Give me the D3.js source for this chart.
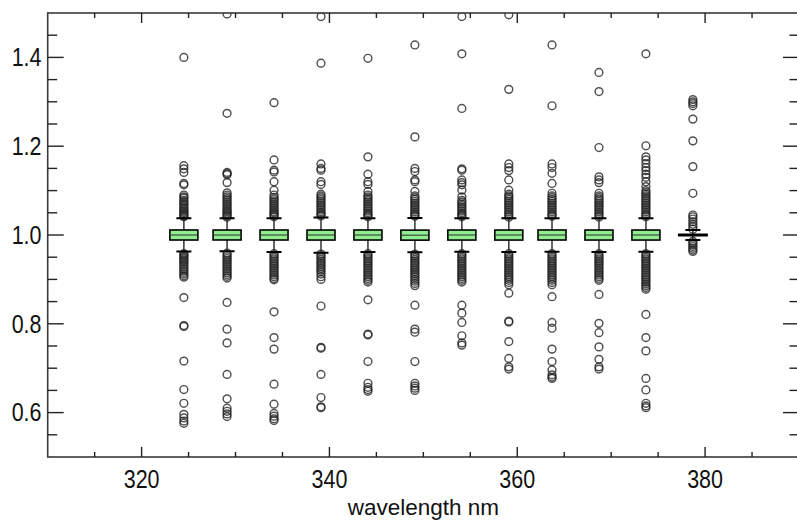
<!DOCTYPE html>
<html>
<head>
<meta charset="utf-8">
<script src="https://cdn.jsdelivr.net/npm/d3@7"></script>
<style>
  html, body { margin: 0; padding: 0; background: #fff; }
  svg { display: block; }
  text { font-family: "Liberation Sans", Arial, Helvetica, sans-serif; fill: #111; }
</style>
</head>
<body>
<svg id="chart" width="797" height="523"></svg>
<script>
// Wavelength bands (nm) and box statistics of the ratio at each band
const wavelengths = [324.5, 329.1, 334.1, 339.1, 344.1, 349.1, 354.1, 359.1, 363.7, 368.7, 373.7, 378.7];
const q1          = [0.9887, 0.9888, 0.9887, 0.9886, 0.9887, 0.9884, 0.9886, 0.9886, 0.9887, 0.9886, 0.9886, 1.0];
const medians     = [1.0000, 1.0000, 1.0000, 0.9999, 1.0000, 0.9997, 0.9999, 0.9999, 1.0000, 0.9999, 0.9999, 1.0];
const q3          = [1.0113, 1.0112, 1.0113, 1.0112, 1.0113, 1.0110, 1.0112, 1.0112, 1.0113, 1.0112, 1.0112, 1.0];
const whiskerLow  = [0.9630, 0.9635, 0.9615, 0.9600, 0.9615, 0.9610, 0.9620, 0.9615, 0.9620, 0.9615, 0.9620, 0.9890];
const whiskerHigh = [1.0375, 1.0380, 1.0380, 1.0395, 1.0375, 1.0385, 1.0375, 1.0380, 1.0380, 1.0375, 1.0380, 1.0110];

// Outlying samples above and below the whiskers, per band
const outliersHigh = [
  [1.400, 1.156, 1.149, 1.141, 1.116, 1.113, 1.090, 1.086, 1.083, 1.078, 1.075, 1.071, 1.068, 1.064, 1.060, 1.057, 1.054, 1.051, 1.048, 1.046, 1.043, 1.041],
  [1.498, 1.274, 1.141, 1.138, 1.136, 1.118, 1.095, 1.090, 1.086, 1.082, 1.078, 1.074, 1.070, 1.066, 1.062, 1.058, 1.055, 1.052, 1.049, 1.046, 1.043, 1.040],
  [1.298, 1.169, 1.146, 1.142, 1.120, 1.101, 1.090, 1.085, 1.081, 1.077, 1.073, 1.069, 1.065, 1.061, 1.057, 1.053, 1.050, 1.047, 1.044, 1.041],
  [1.492, 1.387, 1.160, 1.150, 1.146, 1.120, 1.114, 1.092, 1.088, 1.084, 1.080, 1.076, 1.072, 1.068, 1.064, 1.060, 1.056, 1.052, 1.049, 1.046, 1.043],
  [1.398, 1.176, 1.137, 1.120, 1.114, 1.098, 1.090, 1.086, 1.082, 1.078, 1.074, 1.070, 1.066, 1.062, 1.058, 1.054, 1.050, 1.047, 1.044, 1.041],
  [1.428, 1.221, 1.150, 1.143, 1.124, 1.120, 1.098, 1.088, 1.084, 1.080, 1.076, 1.072, 1.068, 1.064, 1.060, 1.056, 1.052, 1.048, 1.045, 1.042],
  [1.492, 1.408, 1.285, 1.149, 1.146, 1.124, 1.118, 1.113, 1.101, 1.086, 1.078, 1.074, 1.070, 1.066, 1.062, 1.058, 1.054, 1.050, 1.047, 1.044, 1.041],
  [1.496, 1.328, 1.160, 1.152, 1.145, 1.124, 1.101, 1.092, 1.088, 1.084, 1.080, 1.076, 1.072, 1.068, 1.064, 1.060, 1.056, 1.052, 1.048, 1.044, 1.040],
  [1.428, 1.291, 1.160, 1.152, 1.139, 1.116, 1.094, 1.088, 1.084, 1.080, 1.076, 1.072, 1.068, 1.064, 1.060, 1.056, 1.052, 1.048, 1.045, 1.042],
  [1.366, 1.323, 1.197, 1.131, 1.124, 1.118, 1.094, 1.088, 1.084, 1.080, 1.076, 1.072, 1.068, 1.064, 1.060, 1.056, 1.052, 1.048, 1.044, 1.040],
  [1.408, 1.201, 1.176, 1.169, 1.161, 1.152, 1.145, 1.137, 1.130, 1.120, 1.109, 1.100, 1.096, 1.092, 1.088, 1.084, 1.080, 1.076, 1.072, 1.068, 1.064, 1.060, 1.056, 1.052, 1.048, 1.044, 1.041],
  [1.305, 1.300, 1.296, 1.291, 1.261, 1.212, 1.154, 1.094, 1.045, 1.041, 1.036, 1.030, 1.024, 1.019, 1.013]
];
const outliersLow = [
  [0.958, 0.955, 0.952, 0.949, 0.946, 0.943, 0.940, 0.936, 0.932, 0.928, 0.924, 0.920, 0.916, 0.912, 0.908, 0.905, 0.859, 0.796, 0.794, 0.716, 0.652, 0.621, 0.596, 0.588, 0.581, 0.576],
  [0.959, 0.955, 0.951, 0.947, 0.943, 0.939, 0.935, 0.931, 0.927, 0.923, 0.919, 0.915, 0.911, 0.907, 0.903, 0.848, 0.788, 0.757, 0.686, 0.631, 0.610, 0.603, 0.597, 0.591],
  [0.958, 0.954, 0.950, 0.946, 0.942, 0.938, 0.934, 0.930, 0.926, 0.922, 0.918, 0.914, 0.910, 0.906, 0.902, 0.899, 0.827, 0.769, 0.743, 0.664, 0.619, 0.598, 0.592, 0.586, 0.582],
  [0.957, 0.953, 0.949, 0.945, 0.941, 0.937, 0.933, 0.929, 0.925, 0.921, 0.917, 0.912, 0.906, 0.900, 0.840, 0.747, 0.745, 0.686, 0.634, 0.613, 0.611],
  [0.958, 0.954, 0.950, 0.946, 0.942, 0.938, 0.934, 0.930, 0.926, 0.922, 0.918, 0.914, 0.910, 0.906, 0.902, 0.898, 0.894, 0.854, 0.777, 0.775, 0.715, 0.666, 0.657, 0.652, 0.648],
  [0.957, 0.953, 0.949, 0.945, 0.941, 0.937, 0.933, 0.929, 0.925, 0.921, 0.917, 0.913, 0.909, 0.905, 0.900, 0.896, 0.891, 0.886, 0.842, 0.788, 0.781, 0.715, 0.666, 0.660, 0.655, 0.650],
  [0.958, 0.954, 0.950, 0.946, 0.942, 0.938, 0.934, 0.930, 0.926, 0.922, 0.918, 0.914, 0.910, 0.906, 0.902, 0.898, 0.894, 0.842, 0.824, 0.803, 0.773, 0.757, 0.752],
  [0.958, 0.954, 0.950, 0.946, 0.942, 0.938, 0.934, 0.930, 0.926, 0.922, 0.918, 0.914, 0.910, 0.906, 0.902, 0.898, 0.893, 0.888, 0.869, 0.806, 0.804, 0.760, 0.722, 0.703, 0.698],
  [0.958, 0.954, 0.950, 0.946, 0.942, 0.938, 0.934, 0.930, 0.926, 0.922, 0.918, 0.914, 0.910, 0.906, 0.902, 0.898, 0.893, 0.888, 0.861, 0.803, 0.790, 0.743, 0.715, 0.696, 0.685, 0.680, 0.677],
  [0.958, 0.954, 0.950, 0.946, 0.942, 0.938, 0.934, 0.930, 0.926, 0.922, 0.918, 0.914, 0.910, 0.906, 0.902, 0.898, 0.866, 0.801, 0.780, 0.748, 0.720, 0.703, 0.698],
  [0.958, 0.954, 0.950, 0.946, 0.942, 0.938, 0.934, 0.930, 0.926, 0.922, 0.918, 0.914, 0.910, 0.906, 0.902, 0.898, 0.894, 0.890, 0.886, 0.882, 0.878, 0.821, 0.769, 0.739, 0.677, 0.651, 0.621, 0.615, 0.611],
  [0.986, 0.982, 0.978, 0.974, 0.970, 0.966, 0.963]
];

// Axis ticks
const xMajorTicks = [320, 340, 360, 380];
const xMinorTicks = [315, 325, 330, 335, 345, 350, 355, 365, 370, 375, 385];
const yMajorTicks = [0.6, 0.8, 1.0, 1.2, 1.4];
const yMinorTicks = [0.55, 0.65, 0.7, 0.75, 0.85, 0.9, 0.95, 1.05, 1.1, 1.15, 1.25, 1.3, 1.35, 1.45];
const xTitle = "wavelength nm";

const svg = d3.select("#chart");
const plotLeft = 47.7, plotRight = 799, plotTop = 13, plotBottom = 457;

const x = d3.scaleLinear().domain([310, 390]).range([plotLeft, plotRight]);
const y = d3.scaleLinear().domain([0.5, 1.5]).range([plotBottom, plotTop]);

svg.append("defs").append("clipPath").attr("id", "plotClip")
  .append("rect").attr("x", plotLeft).attr("y", plotTop)
  .attr("width", plotRight - plotLeft).attr("height", plotBottom - plotTop);

const plot = svg.append("g").attr("clip-path", "url(#plotClip)");

const boxW = 28, capW = 15;
const groups = wavelengths.map((w, i) => ({
  w, q1: q1[i], med: medians[i], q3: q3[i], lo: whiskerLow[i], hi: whiskerHigh[i],
  out: outliersHigh[i].concat(outliersLow[i])
}));

// outlier markers
groups.forEach(g => {
  plot.append("g").selectAll("circle").data(g.out).join("circle")
    .attr("cx", x(g.w)).attr("cy", d => y(d)).attr("r", 3.9)
    .attr("fill", "none").attr("stroke", "#262626").attr("stroke-opacity", 0.8).attr("stroke-width", 1.45);
});

// whiskers, boxes and medians
groups.forEach(g => {
  const cx = x(g.w);
  const gg = plot.append("g");
  gg.append("line").attr("x1", cx).attr("x2", cx).attr("y1", y(g.hi)).attr("y2", y(g.lo))
    .attr("stroke", "#333").attr("stroke-width", 1.5);
  [g.lo, g.hi].forEach(v => gg.append("line")
    .attr("x1", cx - capW / 2).attr("x2", cx + capW / 2).attr("y1", y(v)).attr("y2", y(v))
    .attr("stroke", "#000").attr("stroke-width", 2));
  if (g.q3 > g.q1) {
    gg.append("rect").attr("x", cx - boxW / 2).attr("width", boxW)
      .attr("y", y(g.q3)).attr("height", y(g.q1) - y(g.q3))
      .attr("fill", "#90ee90").attr("stroke", "#000").attr("stroke-width", 1.6);
    gg.append("line").attr("x1", cx - boxW / 2 + 1).attr("x2", cx + boxW / 2 - 1)
      .attr("y1", y(g.med)).attr("y2", y(g.med)).attr("stroke", "#4d6b4d").attr("stroke-width", 1.5);
  } else {
    gg.append("line").attr("x1", cx - boxW / 2 - 1).attr("x2", cx + boxW / 2 + 1)
      .attr("y1", y(g.med)).attr("y2", y(g.med)).attr("stroke", "#000").attr("stroke-width", 3);
  }
});

// frame
svg.append("rect").attr("x", plotLeft).attr("y", plotTop)
  .attr("width", plotRight - plotLeft).attr("height", plotBottom - plotTop)
  .attr("fill", "none").attr("stroke", "#3a3a3a").attr("stroke-width", 1.6);

// ticks on all four sides, pointing inward
const tickG = svg.append("g").attr("stroke", "#222").attr("stroke-width", 1.4);
const xt = [...xMajorTicks.map(v => [v, 10]), ...xMinorTicks.map(v => [v, 5])];
xt.forEach(([v, len]) => {
  tickG.append("line").attr("x1", x(v)).attr("x2", x(v)).attr("y1", plotBottom).attr("y2", plotBottom - len);
  tickG.append("line").attr("x1", x(v)).attr("x2", x(v)).attr("y1", plotTop).attr("y2", plotTop + len);
});
const yt = [...yMajorTicks.map(v => [v, 16]), ...yMinorTicks.map(v => [v, 9.5])];
yt.forEach(([v, len]) => {
  tickG.append("line").attr("x1", plotLeft).attr("x2", plotLeft + len).attr("y1", y(v)).attr("y2", y(v));
  tickG.append("line").attr("x1", plotRight).attr("x2", plotRight - len).attr("y1", y(v)).attr("y2", y(v));
});

// tick labels
xMajorTicks.forEach(v => {
  svg.append("text").attr("transform", `translate(${x(v)},488) scale(0.86,1)`)
    .attr("text-anchor", "middle").attr("font-size", 25).text(d3.format("d")(v));
});
yMajorTicks.forEach(v => {
  svg.append("text").attr("transform", `translate(41.5,${y(v) + 8.8}) scale(0.86,1)`)
    .attr("text-anchor", "end").attr("font-size", 25).text(d3.format(".1f")(v));
});

// axis title
svg.append("text").attr("x", (plotLeft + plotRight) / 2).attr("y", 515)
  .attr("text-anchor", "middle").attr("font-size", 22.5).text(xTitle);
</script>
</body>
</html>
